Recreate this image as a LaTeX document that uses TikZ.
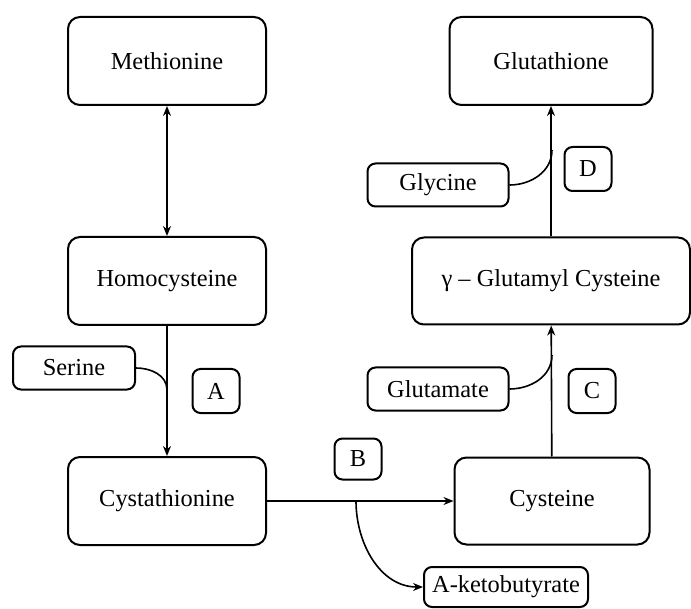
\documentclass[tikz,border=0pt]{standalone}
\usepackage{fontspec}
\setmainfont{Liberation Serif}
\usetikzlibrary{positioning,arrows.meta}

\tikzset{
	stepbig/.style={draw, line width=1pt, rounded corners=6pt, minimum width=99pt, minimum height=44pt, inner sep=0pt, font=\rmfamily\fontsize{12.2}{14}\selectfont},
	stepsmall/.style={draw, line width=1pt, rounded corners=4pt, minimum width=70.5pt, minimum height=21.5pt, inner sep=0pt, font=\rmfamily\fontsize{12.2}{14}\selectfont},
	enzyme/.style={draw, line width=1pt, rounded corners=4pt, minimum width=23.5pt, minimum height=22pt, inner sep=0pt, font=\rmfamily\fontsize{12.2}{14}\selectfont},
	link/.style={line width=0.8pt, -{Stealth[length=5pt,width=4pt]}},
	feed/.style={line width=0.8pt}
}

\begin{document}
\begin{tikzpicture}[x=0.5pt,y=-0.5pt]
	\useasboundingbox (0,0) rectangle (691,609);
	
	% left column
	\node[stepbig] (meth) at (167,61) {Methionine};
	\node[stepbig] (homo) at (167,281) {Homocysteine};
	\node[stepbig] (cysta) at (167,501) {Cystathionine};
	\node[stepsmall, minimum width=61pt] (serine) at (74,368) {Serine};
	\node[enzyme] (A) at (216,391) {A};
	
	% right column
	\node[stepbig, minimum width=101.5pt] (gsh) at (551,61) {Glutathione};
	\node[stepbig, minimum width=139pt, minimum height=43.5pt] (gcys) at (551,281) {γ – Glutamyl Cysteine};
	\node[stepbig, minimum width=97.5pt, minimum height=43.5pt] (cys) at (552,501) {Cysteine};
	\node[stepsmall] (gly) at (438,185) {Glycine};
	\node[stepsmall] (glu) at (438,389) {Glutamate};
	\node[enzyme] (D) at (588,169) {D};
	\node[enzyme] (C) at (592,391) {C};
	
	% bottom
	\node[enzyme, minimum height=20.5pt] (B) at (358,459) {B};
	\node[stepsmall, minimum width=82pt, minimum height=20pt] (aketo) at (506,587) {A-ketobutyrate};
	
	% joins
	\coordinate (sj) at (167,390);
	\coordinate (bj) at (356,501);
	\coordinate (gj) at (552,355);
	\coordinate (yj) at (552,150);
	
	% main arrows
	\draw[link, {Stealth[length=5pt,width=4pt]}-{Stealth[length=5pt,width=4pt]}] (meth) -- (homo);
	\draw[link] (homo) -- (cysta);
	\draw[link] (cysta) -- (cys);
	\draw[link] (cys) -- (gcys);
	\draw[link] (gcys) -- (gsh);
	
	% side branches
	\draw[feed] (serine.east) to[out=0,in=90] (sj);
	\draw[link] (bj) to[out=-90,in=180] (aketo.west);
	\draw[feed] (glu.east) to[out=0,in=-90] (gj);
	\draw[feed] (gly.east) to[out=0,in=-90] (yj);
\end{tikzpicture}
\end{document}
